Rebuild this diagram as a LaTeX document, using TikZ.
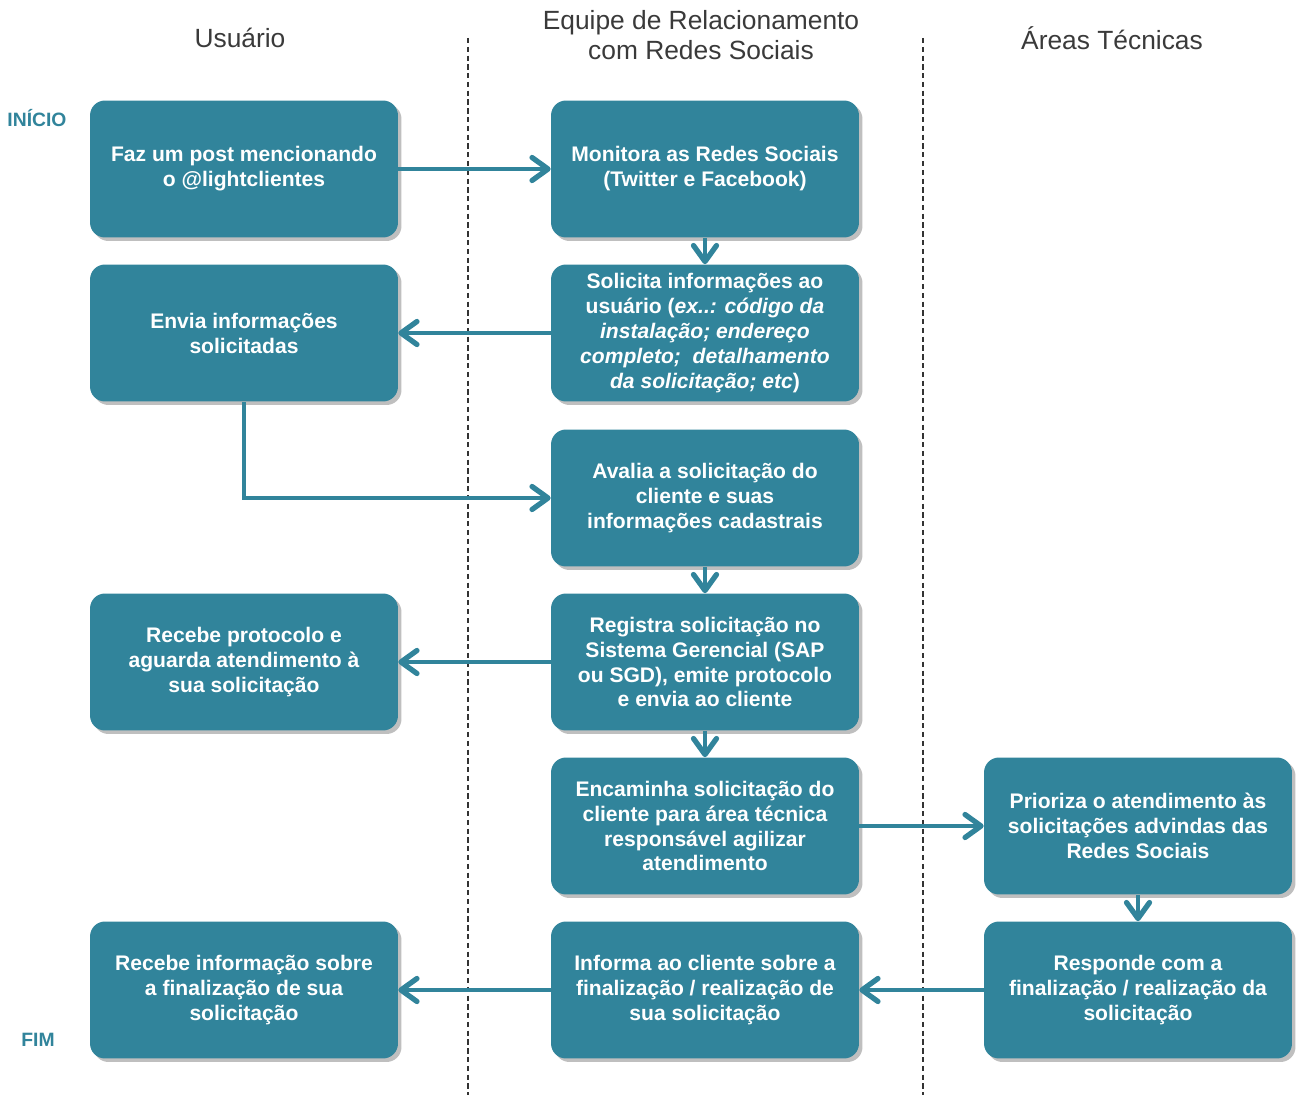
\documentclass[tikz,border=0pt]{standalone}
\usepackage{fontspec}
\setmainfont{Liberation Sans}
\usepackage{tikz}
\usetikzlibrary{arrows.meta,shadows}
\usepackage{xcolor}
\definecolor{lightteal}{HTML}{31849B}
\definecolor{headgray}{HTML}{3A3A3A}

\begin{document}
\begin{tikzpicture}[x=0.02cm, y=-0.02cm,
  procbox/.style={fill=lightteal, rounded corners=8.5pt, minimum width=6.16cm, minimum height=2.74cm, align=center, text=white, font=\bfseries\fontsize{12}{14.2}\selectfont, drop shadow={shadow xshift=0.7mm, shadow yshift=-0.7mm, opacity=0.25, fill=black}},
  flow/.style={draw=lightteal, line width=2.3pt, -{Straight Barb[length=3.2mm,width=4.6mm,line width=3pt,round]}},
  lane/.style={line width=0.6pt, dash pattern=on 3pt off 2pt, black!80},
  head/.style={align=center, text=headgray, font=\fontsize{15}{17}\selectfont},
  endlabel/.style={text=lightteal, font=\bfseries\fontsize{11}{13}\selectfont}]
\useasboundingbox (0,0) rectangle (1299,1095);
% swimlane headers and separators
\node[head] (hUser) at (240,38) {Usuário};
\node[head] (hTeam) at (701,35) {Equipe de Relacionamento\\com Redes Sociais};
\node[head] (hTech) at (1112,38) {Áreas Técnicas};
\draw[lane] (468,38) -- (468,1095);
\draw[lane] (923,38) -- (923,1095);
\node[endlabel] (start) at (37,118) {INÍCIO};
\node[endlabel] (finish) at (38,1040) {FIM};

% Usuário
\node[procbox] (post) at (244,169) {Faz um post mencionando\\o @lightclientes};
\node[procbox] (envia) at (244,333) {Envia informações\\solicitadas};
\node[procbox] (protocolo) at (244,662) {Recebe protocolo e\\aguarda atendimento à\\sua solicitação};
\node[procbox] (recebe) at (244,990) {Recebe informação sobre\\a finalização de sua\\solicitação};

% Equipe de Relacionamento
\node[procbox] (monitora) at (705,169) {Monitora as Redes Sociais\\(Twitter e Facebook)};
\node[procbox] (solicita) at (705,333) {Solicita informações ao\\usuário (\textit{ex..: código da}\\\textit{instalação; endereço}\\\textit{completo;~ detalhamento}\\\textit{da solicitação; etc})};
\node[procbox] (avalia) at (705,498) {Avalia a solicitação do\\cliente e suas\\informações cadastrais};
\node[procbox] (registra) at (705,662) {Registra solicitação no\\Sistema Gerencial (SAP\\ou SGD), emite protocolo\\e envia ao cliente};
\node[procbox] (encaminha) at (705,826) {Encaminha solicitação do\\cliente para área técnica\\responsável agilizar\\atendimento};
\node[procbox] (informa) at (705,990) {Informa ao cliente sobre a\\finalização / realização de\\sua solicitação};

% Áreas Técnicas
\node[procbox] (prioriza) at (1138,826) {Prioriza o atendimento às\\solicitações advindas das\\Redes Sociais};
\node[procbox] (responde) at (1138,990) {Responde com a\\finalização / realização da\\solicitação};

% connectors
\draw[flow] (post) -- (monitora);
\draw[flow] (monitora) -- (solicita);
\draw[flow] (solicita) -- (envia);
\draw[flow] (envia.south) |- (avalia.west);
\draw[flow] (avalia) -- (registra);
\draw[flow] (registra) -- (protocolo);
\draw[flow] (registra) -- (encaminha);
\draw[flow] (encaminha) -- (prioriza);
\draw[flow] (prioriza) -- (responde);
\draw[flow] (responde) -- (informa);
\draw[flow] (informa) -- (recebe);
\end{tikzpicture}
\end{document}
